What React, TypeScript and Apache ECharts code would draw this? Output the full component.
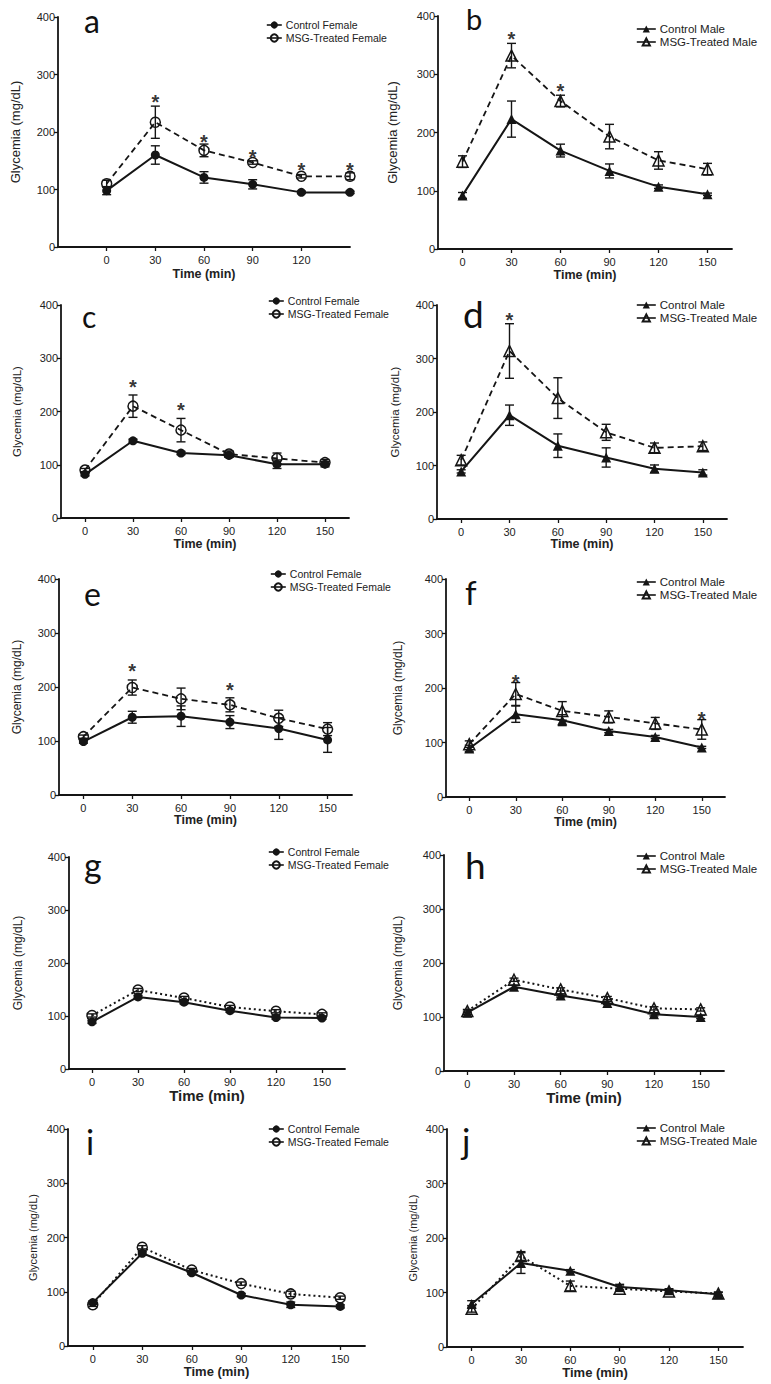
import React, { useEffect, useRef } from "react";
import * as echarts from "echarts";

// ---------- DATA ----------
const TIMES = [0, 30, 60, 90, 120, 150];
const Y_TICKS = [0, 100, 200, 300, 400];
const X_TICKS_A = [0, 30, 60, 90, 120];
const X_TICKS = [0, 30, 60, 90, 120, 150];

const aControl = [98, 160, 121, 109, 95, 95];
const aControlErr = [7, 16, 10, 8, 2, 2];
const aMsg = [110, 217, 168, 147, 123, 123];
const aMsgErr = [6, 28, 11, 3, 3, 6];
const aStars = [[30, 261], [60, 192], [90, 166], [120, 142], [150, 142]];

const bControl = [92, 223, 169, 134, 107, 94];
const bControlErr = [5, 31, 11, 12, 3, 2];
const bMsg = [150, 332, 254, 193, 152, 137];
const bMsgErr = [10, 21, 10, 21, 15, 10];
const bStars = [[30, 369], [60, 279]];

const cControl = [82, 145, 122, 118, 101, 101];
const cControlErr = [3, 3, 3, 4, 8, 5];
const cMsg = [90, 210, 165, 120, 112, 104];
const cMsgErr = [3, 21, 22, 6, 10, 6];
const cStars = [[30, 256], [60, 212]];

const dControl = [89, 194, 137, 115, 94, 87];
const dControlErr = [3, 19, 22, 18, 7, 5];
const dMsg = [110, 314, 226, 162, 133, 136];
const dMsgErr = [9, 51, 38, 15, 9, 8];
const dStars = [[30, 381]];

const eControl = [99, 144, 146, 135, 123, 102];
const eControlErr = [3, 11, 19, 12, 20, 23];
const eMsg = [108, 199, 178, 167, 142, 122];
const eMsgErr = [3, 14, 20, 13, 15, 12];
const eStars = [[30, 238], [90, 204]];

const fControl = [89, 152, 141, 121, 110, 91];
const fControlErr = [6, 15, 10, 3, 3, 2];
const fMsg = [97, 189, 158, 147, 135, 124];
const fMsgErr = [6, 21, 17, 11, 11, 18];
const fStars = [[30, 221], [150, 152]];

const gControl = [89, 136, 126, 110, 97, 96];
const gControlErr = [3, 3, 3, 3, 3, 2];
const gMsg = [101, 149, 134, 117, 109, 103];
const gMsgErr = [3, 3, 3, 3, 3, 3];

const hControl = [108, 156, 140, 126, 105, 100];
const hControlErr = [3, 3, 3, 3, 3, 3];
const hMsg = [111, 169, 151, 135, 116, 114];
const hMsgErr = [3, 3, 3, 3, 3, 3];

const iControl = [80, 171, 135, 94, 76, 73];
const iControlErr = [3, 3, 3, 3, 5, 3];
const iMsg = [76, 182, 140, 115, 96, 89];
const iMsgErr = [3, 3, 3, 3, 5, 3];

const jControl = [79, 154, 140, 110, 104, 97];
const jControlErr = [6, 19, 2, 5, 3, 3];
const jMsg = [70, 167, 112, 107, 102, 98];
const jMsgErr = [6, 8, 9, 5, 3, 3];

const PANELS = [
  { id: "a", sex: "Female", control: aControl, controlErr: aControlErr, msg: aMsg, msgErr: aMsgErr, stars: aStars, dotted: false, xTicks: X_TICKS_A },
  { id: "b", sex: "Male", control: bControl, controlErr: bControlErr, msg: bMsg, msgErr: bMsgErr, stars: bStars, dotted: false, xTicks: X_TICKS },
  { id: "c", sex: "Female", control: cControl, controlErr: cControlErr, msg: cMsg, msgErr: cMsgErr, stars: cStars, dotted: false, xTicks: X_TICKS },
  { id: "d", sex: "Male", control: dControl, controlErr: dControlErr, msg: dMsg, msgErr: dMsgErr, stars: dStars, dotted: false, xTicks: X_TICKS },
  { id: "e", sex: "Female", control: eControl, controlErr: eControlErr, msg: eMsg, msgErr: eMsgErr, stars: eStars, dotted: false, xTicks: X_TICKS },
  { id: "f", sex: "Male", control: fControl, controlErr: fControlErr, msg: fMsg, msgErr: fMsgErr, stars: fStars, dotted: false, xTicks: X_TICKS },
  { id: "g", sex: "Female", control: gControl, controlErr: gControlErr, msg: gMsg, msgErr: gMsgErr, stars: [], dotted: true, xTicks: X_TICKS },
  { id: "h", sex: "Male", control: hControl, controlErr: hControlErr, msg: hMsg, msgErr: hMsgErr, stars: [], dotted: true, xTicks: X_TICKS },
  { id: "i", sex: "Female", control: iControl, controlErr: iControlErr, msg: iMsg, msgErr: iMsgErr, stars: [], dotted: true, xTicks: X_TICKS },
  { id: "j", sex: "Male", control: jControl, controlErr: jControlErr, msg: jMsg, msgErr: jMsgErr, stars: [], dotted: true, xTicks: X_TICKS },
];

// ---------- LAYOUT ----------
type Lay = {
  grid: number[]; xr: number[]; letter: number[]; legend: number[];
  yGap: number; ySize: number; xGap: number; xSize: number;
};
const LAYOUT: Record<string, Lay> = {
  a: { grid: [58, 17, 292, 230], xr: [-30, 150], letter: [84, 30, 32], legend: [266, 19], yGap: 36, ySize: 13, xGap: 20, xSize: 12.5 },
  b: { grid: [438, 16, 294, 233], xr: [-15, 165], letter: [466, 27, 29], legend: [636, 23], yGap: 39, ySize: 13, xGap: 19, xSize: 12.5 },
  c: { grid: [61, 305, 288, 213], xr: [-15, 165], letter: [82, 325, 30], legend: [268, 295], yGap: 38, ySize: 11.5, xGap: 19, xSize: 12.5 },
  d: { grid: [437, 305, 290, 214], xr: [-15, 165], letter: [463, 325, 37], legend: [636, 299], yGap: 36, ySize: 11.5, xGap: 18, xSize: 12.5 },
  e: { grid: [59, 579, 293, 216], xr: [-15, 165], letter: [84, 603, 32], legend: [270, 568], yGap: 36, ySize: 12, xGap: 18, xSize: 12.5 },
  f: { grid: [446, 579, 279, 218], xr: [-15, 165], letter: [465, 602, 33], legend: [636, 576], yGap: 42, ySize: 12, xGap: 18, xSize: 12.5 },
  g: { grid: [69, 857, 276, 212], xr: [-15, 165], letter: [84, 875, 34], legend: [268, 846], yGap: 45, ySize: 12, xGap: 19, xSize: 15 },
  h: { grid: [444, 855, 280, 216], xr: [-15, 165], letter: [465, 876, 37], legend: [636, 850], yGap: 40, ySize: 12, xGap: 17, xSize: 15 },
  i: { grid: [68, 1129, 297, 217], xr: [-15, 165], letter: [86, 1152, 34], legend: [268, 1123], yGap: 30, ySize: 11, xGap: 17, xSize: 13 },
  j: { grid: [447, 1129, 296, 218], xr: [-15, 165], letter: [462, 1150, 35], legend: [636, 1122], yGap: 29, ySize: 11, xGap: 16, xSize: 13 },
};

const INK = "#151515";
const FONT = "'Liberation Sans', Arial, sans-serif";

const errRender = (params: any, api: any) => {
  const x = api.value(0);
  const p1 = api.coord([x, api.value(1)]);
  const p2 = api.coord([x, api.value(2)]);
  const w = 4.5;
  const st = { stroke: INK, lineWidth: 1.4 };
  return {
    type: "group",
    children: [
      { type: "line", shape: { x1: p1[0], y1: p1[1], x2: p2[0], y2: p2[1] }, style: st },
      { type: "line", shape: { x1: p1[0] - w, y1: p1[1], x2: p1[0] + w, y2: p1[1] }, style: st },
      { type: "line", shape: { x1: p2[0] - w, y1: p2[1], x2: p2[0] + w, y2: p2[1] }, style: st },
    ],
  };
};

function buildOption() {
  const grid: any[] = [];
  const xAxis: any[] = [];
  const yAxis: any[] = [];
  const series: any[] = [];
  const legend: any[] = [];
  const graphic: any[] = [];

  PANELS.forEach((p, i) => {
    const L = LAYOUT[p.id];
    const male = p.sex === "Male";
    grid.push({ left: L.grid[0], top: L.grid[1], width: L.grid[2], height: L.grid[3] });
    xAxis.push({
      type: "value", gridIndex: i, min: L.xr[0], max: L.xr[1],
      axisLine: { show: true, onZero: false, lineStyle: { color: INK, width: 1.8 } },
      axisTick: { show: true, customValues: p.xTicks, length: 4, lineStyle: { color: INK, width: 1.3 } },
      axisLabel: { customValues: p.xTicks, fontSize: 11, color: "#222", margin: 7, fontFamily: FONT },
      splitLine: { show: false },
      name: "Time (min)", nameLocation: "middle", nameGap: L.xGap,
      nameTextStyle: { fontSize: L.xSize, fontWeight: "bold", color: "#222", fontFamily: FONT },
    });
    yAxis.push({
      type: "value", gridIndex: i, min: 0, max: 400, interval: 100,
      axisLine: { show: true, onZero: false, lineStyle: { color: INK, width: 1.8 } },
      axisTick: { show: true, length: 4, lineStyle: { color: INK, width: 1.3 } },
      axisLabel: { fontSize: 11, color: "#222", margin: 3, fontFamily: FONT },
      splitLine: { show: false },
      name: "Glycemia (mg/dL)", nameLocation: "middle", nameRotate: 90, nameGap: L.yGap,
      nameTextStyle: { fontSize: L.ySize, color: "#222", fontFamily: FONT },
    });

    const ctrlName = `Control ${p.sex}`;
    const msgName = `MSG-Treated ${p.sex}`;
    const sym = male ? "triangle" : "circle";
    const symSize = male ? 10 : 9;

    series.push({
      type: "custom", xAxisIndex: i, yAxisIndex: i, z: 2, renderItem: errRender,
      data: TIMES.map((t, k) => [t, p.control[k] - p.controlErr[k], p.control[k] + p.controlErr[k]]),
      silent: true,
    });
    series.push({
      type: "custom", xAxisIndex: i, yAxisIndex: i, z: 2, renderItem: errRender,
      data: TIMES.map((t, k) => [t, p.msg[k] - p.msgErr[k], p.msg[k] + p.msgErr[k]]),
      silent: true,
    });
    series.push({
      type: "line", name: msgName, xAxisIndex: i, yAxisIndex: i, z: 3,
      data: TIMES.map((t, k) => [t, p.msg[k]]),
      symbol: sym, symbolSize: symSize + 1,
      itemStyle: { color: "rgba(255,255,255,0)", borderColor: INK, borderWidth: 1.5 },
      lineStyle: { color: INK, width: p.dotted ? 2 : 1.8, type: p.dotted ? [2, 3] : [6, 4] },
    });
    series.push({
      type: "line", name: ctrlName, xAxisIndex: i, yAxisIndex: i, z: 4,
      data: TIMES.map((t, k) => [t, p.control[k]]),
      symbol: sym, symbolSize: symSize,
      itemStyle: { color: INK },
      lineStyle: { color: INK, width: 2 },
    });
    if (p.stars.length) {
      series.push({
        type: "scatter", xAxisIndex: i, yAxisIndex: i, z: 5, silent: true,
        data: p.stars, symbolSize: 1, itemStyle: { color: "transparent" },
        label: { show: true, formatter: "*", position: "inside", fontSize: 20, fontWeight: "bold", color: "#000", offset: [0, 5], fontFamily: FONT },
      });
    }

    legend.push({
      orient: "vertical", left: L.legend[0], top: L.legend[1], padding: 0,
      itemWidth: male ? 19 : 15, itemHeight: 9, itemGap: 1, selectedMode: false,
      data: [ctrlName, msgName],
      lineStyle: { type: "solid", width: 1.6 },
      textStyle: male
        ? { fontSize: 11.5, color: "#222", fontFamily: FONT, lineHeight: 12, padding: [0, 0, 0, -1] }
        : { fontSize: 10.5, color: "#222", fontFamily: "'Liberation Sans Narrow', " + FONT, lineHeight: 12, padding: [0, 0, 0, -1] },
    });

    const fs = L.letter[2];
    graphic.push({
      type: "text", x: L.letter[0], y: L.letter[1] - 0.3 * fs,
      style: { text: p.id, fontSize: fs, fontFamily: "Lato, 'DejaVu Sans', sans-serif", fill: "#111", textVerticalAlign: "middle", verticalAlign: "middle" },
    });
  });

  return {
    animation: false,
    backgroundColor: "#fff",
    textStyle: { fontFamily: FONT },
    grid, xAxis, yAxis, series, legend, graphic,
  };
}

export default function App() {
  const ref = useRef<HTMLDivElement>(null);
  useEffect(() => {
    if (!ref.current) return;
    const chart = echarts.init(ref.current, undefined, { renderer: "svg" });
    chart.setOption(buildOption() as any);
    return () => chart.dispose();
  }, []);
  return (
    <div
      ref={ref}
      style={{ position: "absolute", left: 0, top: 0, width: 771, height: 1384, background: "#fff" }}
    />
  );
}
